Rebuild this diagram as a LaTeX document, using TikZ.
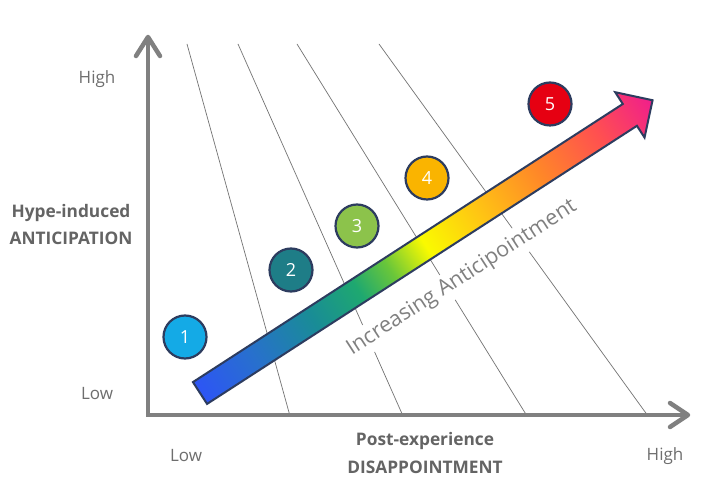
\documentclass[tikz,border=0pt]{standalone}
\usepackage{fontspec}
\setmainfont{Open Sans}
\usetikzlibrary{calc}
\definecolor{axisgray}{RGB}{128,128,128}
\definecolor{guidegray}{RGB}{115,115,115}
\definecolor{labelgray}{RGB}{110,110,110}
\definecolor{titlegray}{RGB}{100,100,100}
\definecolor{edgeblue}{RGB}{45,60,95}
\definecolor{cA}{RGB}{20,170,230}
\definecolor{cB}{RGB}{30,125,135}
\definecolor{cC}{RGB}{140,195,75}
\definecolor{cD}{RGB}{250,180,0}
\definecolor{cE}{RGB}{230,0,18}
\definecolor{g0}{RGB}{45,85,245}
\definecolor{g1}{RGB}{40,112,205}
\definecolor{g2}{RGB}{25,140,150}
\definecolor{g3}{RGB}{30,168,112}
\definecolor{g4}{RGB}{105,198,58}
\definecolor{g5}{RGB}{250,250,0}
\definecolor{g6}{RGB}{255,195,20}
\definecolor{g7}{RGB}{255,135,40}
\definecolor{g8}{RGB}{255,80,80}
\definecolor{g9}{RGB}{240,30,140}
\pgfdeclarehorizontalshading{anticip}{100bp}{color(0bp)=(g0); color(25bp)=(g0); color(31bp)=(g1); color(37.5bp)=(g2); color(42.5bp)=(g3); color(46bp)=(g4); color(50bp)=(g5); color(56bp)=(g6); color(62.5bp)=(g7); color(69bp)=(g8); color(75bp)=(g9); color(100bp)=(g9)}
\begin{document}
\begin{tikzpicture}[x=1pt,y=1pt,
  axisline/.style={line width=4.5pt,draw=axisgray,line join=miter},
  axistip/.style={line width=4.5pt,draw=axisgray,line cap=round,line join=round},
  guide/.style={draw=guidegray,line width=0.7pt},
  numdisc/.style={circle,minimum size=43pt,inner sep=0pt,draw=edgeblue,line width=2.2pt,text=white,font=\fontsize{18}{20}\selectfont},
  tick/.style={text=labelgray,font=\fontsize{17}{20}\selectfont,inner sep=0pt},
  axtitle/.style={text=titlegray,font=\bfseries\fontsize{17.3}{20}\selectfont,inner sep=0pt},
  anticlabel/.style={text=axisgray,fill=white,font=\fontsize{21.5}{26}\selectfont,inner sep=4pt}]
\useasboundingbox (0,0) rectangle (722,484);
\fill[white] (0,0) rectangle (722,484);
% coordinates
\coordinate (O) at (148,69);
\coordinate (Ytop) at (148,447);
\coordinate (Xend) at (688,69);
\coordinate (ya) at (136,428);
\coordinate (yb) at (160,428);
\coordinate (xa) at (670,81);
\coordinate (xb) at (670,57);
\coordinate (t1) at (187,440); \coordinate (b1) at (290,68);
\coordinate (t2) at (238,440); \coordinate (b2) at (403,68);
\coordinate (t3) at (297,440); \coordinate (b3) at (527,68);
\coordinate (t4) at (379,440); \coordinate (b4) at (648,68);
% guide lines
\draw[guide] (t1) -- (b1);
\draw[guide] (t2) -- (b2);
\draw[guide] (t3) -- (b3);
\draw[guide] (t4) -- (b4);
% arrow label
\node[anticlabel,rotate=32.9] (inc) at (462,206) {Increasing Anticipointment};
% axes
\draw[axisline] (Ytop) -- (O) -- (Xend);
\draw[axistip] (ya) -- (Ytop) -- (yb);
\draw[axistip] (xa) -- (Xend) -- (xb);
% gradient arrow
\begin{scope}[transform canvas={shift={(200,91)},rotate=32.9}]
\shadedraw[shading=anticip,draw=edgeblue,line width=2pt,line join=miter]
  (0,13) -- (512,13) -- (512,27) -- (539,0) -- (512,-27) -- (512,-13) -- (0,-13) -- cycle;
\end{scope}
% numbered discs
\node[numdisc,fill=cA] (n1) at (185,147) {1};
\node[numdisc,fill=cB] (n2) at (291,214) {2};
\node[numdisc,fill=cC] (n3) at (357,258) {3};
\node[numdisc,fill=cD] (n4) at (427,306) {4};
\node[numdisc,fill=cE] (n5) at (550,380) {5};
% tick labels
\node[tick] (yhigh) at (97,405) {High};
\node[tick] (ylow) at (97,90) {Low};
\node[tick] (xlow) at (186,28) {Low};
\node[tick] (xhigh) at (665,28) {High};
% axis titles
\node[axtitle] (yt1) at (71,271) {Hype-induced};
\node[axtitle] (yt2) at (71,246) {ANTICIPATION};
\node[axtitle] (xt1) at (425,43) {Post-experience};
\node[axtitle] (xt2) at (425,17) {DISAPPOINTMENT};
\end{tikzpicture}
\end{document}
